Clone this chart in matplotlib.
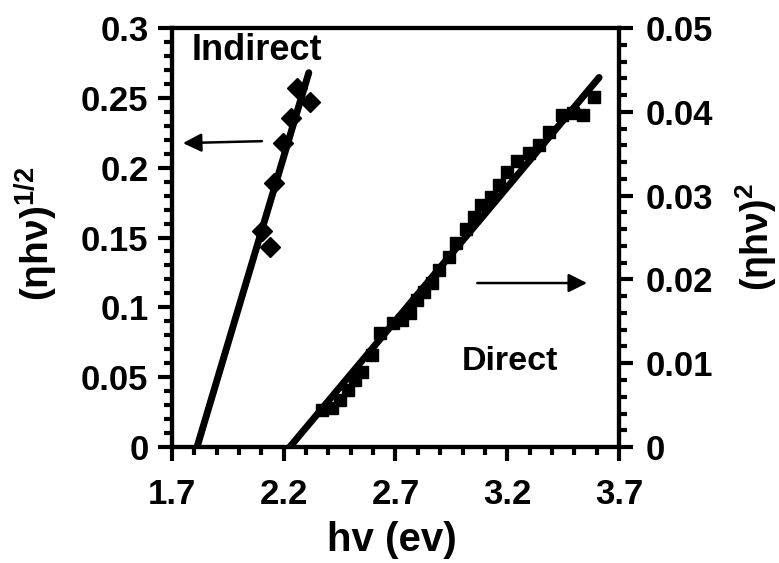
import matplotlib
matplotlib.use("Agg")
import matplotlib.pyplot as plt
from matplotlib.ticker import MultipleLocator, FixedLocator

plt.rcParams['font.family'] = ['Liberation Sans', 'DejaVu Sans']
plt.rcParams['font.weight'] = 'bold'
plt.rcParams['mathtext.fontset'] = 'custom'
plt.rcParams['mathtext.rm'] = 'Liberation Sans:bold'
plt.rcParams['mathtext.bf'] = 'Liberation Sans:bold'
plt.rcParams['mathtext.default'] = 'bf'

# indirect gap: (eta h nu)^1/2 vs hv, left axis
indirect_x = [2.138, 2.102, 2.155, 2.196, 2.231, 2.316, 2.258]
indirect_y = [0.143, 0.155, 0.189, 0.218, 0.2355, 0.247, 0.257]
indirect_fit_x = [1.812, 2.312]
indirect_fit_y = [0.0, 0.268]

# direct gap: (eta h nu)^2 vs hv, right axis
direct_x = [2.370, 2.414, 2.450, 2.486, 2.517, 2.548, 2.593, 2.629, 2.687, 2.727,
            2.763, 2.798, 2.829, 2.865, 2.896, 2.941, 2.972, 3.017, 3.053, 3.084,
            3.129, 3.164, 3.200, 3.245, 3.298, 3.343, 3.388, 3.446, 3.495, 3.539,
            3.588]
direct_y = [0.00442, 0.00465, 0.00561, 0.00680, 0.00800, 0.00895, 0.01098, 0.01360,
            0.01480, 0.01516, 0.01599, 0.01754, 0.01850, 0.01957, 0.02112, 0.02267,
            0.02434, 0.02601, 0.02745, 0.02888, 0.02983, 0.03126, 0.03282, 0.03413,
            0.03508, 0.03604, 0.03759, 0.03962, 0.03986, 0.03962, 0.04177]
direct_fit_x = [2.227, 3.611]
direct_fit_y = [0.0, 0.0441]

x_ticks = [1.7, 2.2, 2.7, 3.2, 3.7]
left_ticks = [0, 0.05, 0.1, 0.15, 0.2, 0.25, 0.3]
left_labels = ['0', '0.05', '0.1', '0.15', '0.2', '0.25', '0.3']
right_ticks = [0, 0.01, 0.02, 0.03, 0.04, 0.05]
right_labels = ['0', '0.01', '0.02', '0.03', '0.04', '0.05']

fig = plt.figure(figsize=(7.79, 5.63), dpi=100)
ax = fig.add_axes([0.2208, 0.206, 0.5738, 0.7442])
ax2 = ax.twinx()

ax.plot(indirect_fit_x, indirect_fit_y, color='black', lw=5, solid_capstyle='round', zorder=3)
ax.plot(indirect_x, indirect_y, 'D', color='black', ms=10, zorder=4)
ax2.plot(direct_fit_x, direct_fit_y, color='black', lw=5, solid_capstyle='round', zorder=3)
ax2.plot(direct_x, direct_y, 's', color='black', ms=9, zorder=4)

ax.set_xlim(1.7, 3.7)
ax.set_ylim(0, 0.3)
ax2.set_ylim(0, 0.05)

ax.xaxis.set_major_locator(FixedLocator(x_ticks))
ax.set_xticklabels([f'{v:.1f}' for v in x_ticks])
ax.xaxis.set_minor_locator(MultipleLocator(0.1))
ax.yaxis.set_major_locator(FixedLocator(left_ticks))
ax.set_yticklabels(left_labels)
ax.yaxis.set_minor_locator(MultipleLocator(0.01))
ax2.yaxis.set_major_locator(FixedLocator(right_ticks))
ax2.set_yticklabels(right_labels)
ax2.yaxis.set_minor_locator(MultipleLocator(0.002))

for a in (ax, ax2):
    for s in a.spines.values():
        s.set_linewidth(3)
    a.tick_params(which='major', direction='out', length=10, width=3, labelsize=25, pad=7)
    a.tick_params(which='minor', direction='out', length=6, width=3)
ax.tick_params(axis='x', which='major', pad=12)
ax.tick_params(axis='y', which='both', right=False)
ax2.tick_params(axis='y', which='major', pad=9)

for lab in ax.get_xticklabels() + ax.get_yticklabels() + ax2.get_yticklabels():
    lab.set_fontweight('bold')

# axis titles placed by their centres
fig.text(392 / 779, 1 - 540 / 563, 'hv (ev)', fontsize=29, fontweight='bold',
         ha='center', va='center')
fig.text(36 / 779, 1 - 234 / 563, '(ηhν)$^{1/2}$', fontsize=28, fontweight='bold',
         ha='center', va='center', rotation=90)
fig.text(756 / 779, 1 - 237 / 563, '(ηhν)$^{2}$', fontsize=27, fontweight='bold',
         ha='center', va='center', rotation=90)

ax.text(0.19, 0.947, 'Indirect', transform=ax.transAxes, fontsize=26,
        fontweight='bold', ha='center', va='center')
ax.text(0.756, 0.203, 'Direct', transform=ax.transAxes, fontsize=24.5,
        fontweight='bold', ha='center', va='center')

arrow = dict(arrowstyle='-|>', lw=1.8, color='black', mutation_scale=28,
             shrinkA=0, shrinkB=0)
ax.annotate('', xy=(1.749, 0.2176), xytext=(2.102, 0.219), arrowprops=arrow)
ax2.annotate('', xy=(3.557, 0.01957), xytext=(3.066, 0.01957), arrowprops=arrow)

fig.savefig('out.png', dpi=100)
